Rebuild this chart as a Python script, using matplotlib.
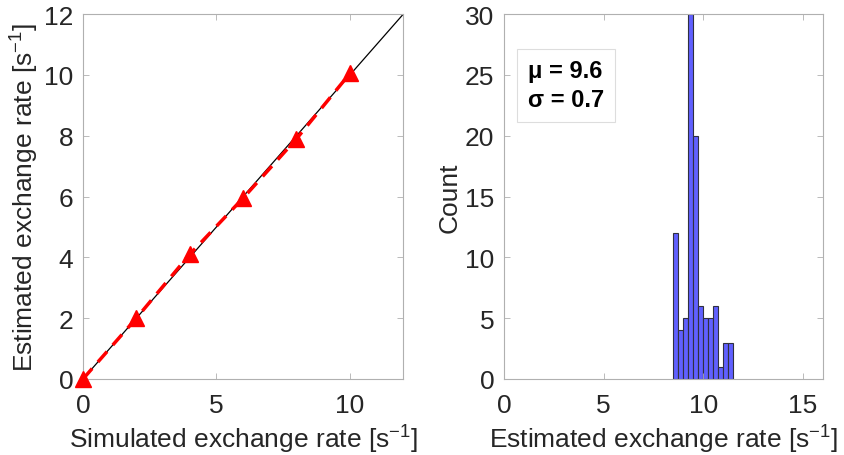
import matplotlib.pyplot as plt

plt.rcParams['font.family'] = ['Liberation Sans', 'DejaVu Sans']
plt.rcParams['mathtext.fontset'] = 'custom'
plt.rcParams['mathtext.rm'] = 'Liberation Sans'
plt.rcParams['mathtext.it'] = 'Liberation Sans'

# left panel: simulated vs estimated exchange rate
simulated = [0, 2, 4, 6, 8, 10]
estimated = [0.0, 2.0, 4.1, 5.95, 7.9, 10.05]

# right panel: histogram of estimates (bins of width 0.25 from 8.5 to 11.5)
bin_edges = [8.5 + 0.25 * i for i in range(13)]
counts = [12, 4, 5, 30, 20, 6, 5, 5, 6, 1, 3, 3]

tick_color = '#262626'
spine_color = '#b0b0b0'

fig = plt.figure(figsize=(8.45, 4.56), dpi=100)
ax1 = fig.add_axes([0.0982, 0.1667, 0.379, 0.800])
ax2 = fig.add_axes([0.5964, 0.1667, 0.3775, 0.800])

ax1.plot([0, 12], [0, 12], color='black', lw=0.9)
ax1.plot(simulated, estimated, color='red', ls='--', lw=2.5, dashes=(4, 2.5),
         marker='^', markersize=11, clip_on=False, zorder=3)
ax1.set_xlim(0, 12)
ax1.set_ylim(0, 12)
ax1.set_xticks([0, 5, 10])
ax1.set_yticks(range(0, 13, 2))
ax1.set_xlabel('Simulated exchange rate [s$^{\\rm{-1}}$]', fontsize=19, color=tick_color)
ax1.set_ylabel('Estimated exchange rate [s$^{\\rm{-1}}$]', fontsize=19, color=tick_color)

ax2.bar(bin_edges[:-1], counts, width=0.25, align='edge', color='#6060ff',
        edgecolor='#303040', linewidth=0.8)
ax2.set_xlim(0, 16)
ax2.set_ylim(0, 30)
ax2.set_xticks([0, 5, 10, 15])
ax2.set_yticks(range(0, 31, 5))
ax2.set_xlabel('Estimated exchange rate [s$^{\\rm{-1}}$]', fontsize=19, color=tick_color)
ax2.set_ylabel('Count', fontsize=19, color=tick_color)
ax2.text(0.075, 0.805, 'μ = 9.6\nσ = 0.7', transform=ax2.transAxes, fontsize=17,
         fontweight='bold', va='center', ha='left', linespacing=1.35,
         bbox=dict(boxstyle='square,pad=0.45', fc='white', ec='#dddddd', lw=0.8))

for ax in (ax1, ax2):
    ax.tick_params(direction='in', top=True, right=True, labelsize=19,
                   colors=spine_color, labelcolor=tick_color,
                   length=4, width=0.6, pad=7)
    ax.tick_params(axis='x', pad=10)
    for s in ax.spines.values():
        s.set_color(spine_color)
        s.set_linewidth(0.8)
ax1.yaxis.labelpad = 2
ax2.yaxis.labelpad = 2
ax1.xaxis.labelpad = 4
ax2.xaxis.labelpad = 4

fig.savefig('out.png', dpi=100)
